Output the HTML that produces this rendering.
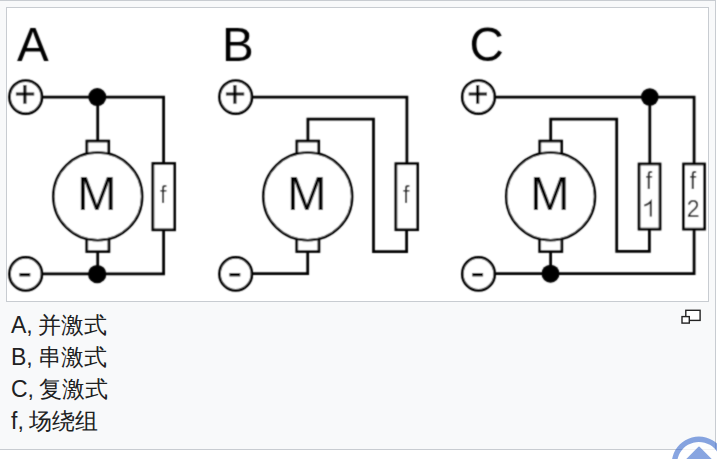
<!DOCTYPE html>
<html><head><meta charset="utf-8">
<style>
html,body{margin:0;padding:0;background:#fff;width:717px;height:459px;overflow:hidden;position:relative;}
body{font-family:"Liberation Sans",sans-serif;}
.outer{position:absolute;left:-1px;top:0;width:715px;height:448px;border:1px solid #c8ccd1;background:#f8f9fa;}
.img{position:absolute;left:6px;top:7px;width:701px;height:293px;border:1px solid #c8ccd1;background:#fff;}
svg.d{position:absolute;left:0;top:0;}
.cap{position:absolute;left:11px;top:309px;font-size:23px;line-height:32px;color:#202122;}
.z{margin-left:-1px;}
</style></head><body>
<div class="outer"></div>
<div class="img"></div>
<svg class="d" width="717" height="459" viewBox="0 0 717 459">
<defs><filter id="bl" x="-2%" y="-2%" width="104%" height="104%"><feConvolveMatrix order="3" kernelMatrix="1 2 1 2 8 2 1 2 1" divisor="20" edgeMode="none"/></filter><clipPath id="cl"><rect x="7" y="8" width="701" height="293"/></clipPath></defs>
<g clip-path="url(#cl)"><g filter="url(#bl)"><g fill="none" stroke="#000" stroke-width="2.75" transform="translate(0 0.4)">
<!-- A -->
<g>
<path d="M43 96.6H163.6V273.4H43"/>
<path d="M97.7 96.6V141"/>
<rect x="86.9" y="140.7" width="21.8" height="16" fill="#fff"/>
<rect x="86.8" y="235.1" width="22.1" height="16" fill="#fff"/>
<path d="M97.7 251V273.4"/>
<ellipse cx="97.75" cy="196" rx="44.4" ry="43.8" fill="#fff" stroke-width="2.5"/>
<ellipse cx="25.7" cy="96.6" rx="16.2" ry="16.5" fill="#fff"/>
<ellipse cx="25.7" cy="273.5" rx="16.2" ry="16.5" fill="#fff"/>
<circle cx="97.3" cy="96.7" r="9" fill="#000" stroke="none"/>
<circle cx="97.2" cy="273.7" r="9.2" fill="#000" stroke="none"/>
<path d="M15.9 93.6H34.2M24.9 84.6V103.3" stroke-width="3.1"/>
<path d="M19.4 274.3H30.3" stroke-width="3.4"/>
<rect x="152.9" y="163.1" width="21.7" height="66.3" fill="#fff"/>
</g>
<!-- B -->
<g>
<path d="M253 96.6H406.9V163"/>
<path d="M307.9 141V118.8H373.5V251.1H406.6V229"/>
<path d="M307.7 251V273.3H253"/>
<rect x="296.9" y="140.7" width="21.8" height="16" fill="#fff"/>
<rect x="296.8" y="235.1" width="22.1" height="16" fill="#fff"/>
<ellipse cx="307.75" cy="196" rx="44.4" ry="43.8" fill="#fff" stroke-width="2.5"/>
<ellipse cx="235.7" cy="96.6" rx="16.2" ry="16.5" fill="#fff"/>
<ellipse cx="235.7" cy="273.5" rx="16.2" ry="16.5" fill="#fff"/>
<path d="M225.9 93.6H244.2M234.9 84.6V103.3" stroke-width="3.1"/>
<path d="M229.4 274.3H240.3" stroke-width="3.4"/>
<rect x="395.9" y="163.3" width="21.7" height="66" fill="#fff"/>
</g>
<!-- C -->
<g>
<path d="M496 96.6H694.1V273.2H496"/>
<path d="M649.8 96.6V164"/>
<path d="M550.7 141V118.7H616.7V251H649.4V229"/>
<path d="M550.6 251V273.2"/>
<rect x="539.8" y="140.7" width="21.8" height="16" fill="#fff"/>
<rect x="539.7" y="235.1" width="22.1" height="16" fill="#fff"/>
<ellipse cx="550.6" cy="196" rx="44.4" ry="43.8" fill="#fff" stroke-width="2.5"/>
<ellipse cx="478.5" cy="96.6" rx="16.2" ry="16.5" fill="#fff"/>
<ellipse cx="478.5" cy="273.5" rx="16.2" ry="16.5" fill="#fff"/>
<circle cx="649.8" cy="96.6" r="8.8" fill="#000" stroke="none"/>
<circle cx="550.5" cy="273.3" r="9" fill="#000" stroke="none"/>
<path d="M468.7 93.6H487M477.7 84.6V103.3" stroke-width="3.1"/>
<path d="M472.2 274.3H483.1" stroke-width="3.4"/>
<rect x="639.1" y="163.6" width="20.9" height="65.1" fill="#fff"/>
<rect x="683.6" y="163.6" width="20.9" height="65.1" fill="#fff"/>
</g>
</g>
<g font-family="Liberation Sans" fill="#000">
<text x="17" y="60.5" font-size="47.5">A</text>
<text x="222" y="60.5" font-size="47.5">B</text>
<text x="469.6" y="60.5" font-size="47.5">C</text>
<text x="77" y="209.8" font-size="47.5">M</text>
<text x="287" y="209.8" font-size="47.5">M</text>
<text x="530" y="209.8" font-size="47.5">M</text>
<g font-size="23" fill="#111">
<text x="159.9" y="203.4">f</text>
<text x="402.9" y="203.4">f</text>
<text x="645.7" y="189.3">f</text>

<text x="689.7" y="189.3">f</text>
<text x="686.8" y="216.8">2</text>
</g>
</g>
<path d="M650.8 216.4V201.6Q648.2 204.4 644.3 205.6" fill="none" stroke="#111" stroke-width="2"/>
</g></g>
<!-- magnify icon -->
<g fill="#fff" stroke="#222" stroke-width="1.4">
<rect x="685.8" y="310.3" width="14.3" height="10.1"/>
<rect x="682" y="316.6" width="7.3" height="6.5"/>
</g>
<!-- back to top -->
<circle cx="698.9" cy="463.7" r="22" fill="rgba(255,255,255,0.72)"/>
<g opacity="0.58" fill="#36c">
<path fill-rule="evenodd" d="M698.9 436.5a27.2 27.2 0 1 0 0.01 0zM698.9 441.9a21.8 21.8 0 1 1 -0.01 0z"/>
<path d="M699 447.4L712.6 461H685.4z" stroke="#36c" stroke-width="1.6" stroke-linejoin="round"/>
</g>
</svg>
<div class="cap">A, <span class="z">并激式</span><br>B, <span class="z">串激式</span><br>C, <span class="z">复激式</span><br>f, <span class="z">场绕组</span></div>
</body></html>
